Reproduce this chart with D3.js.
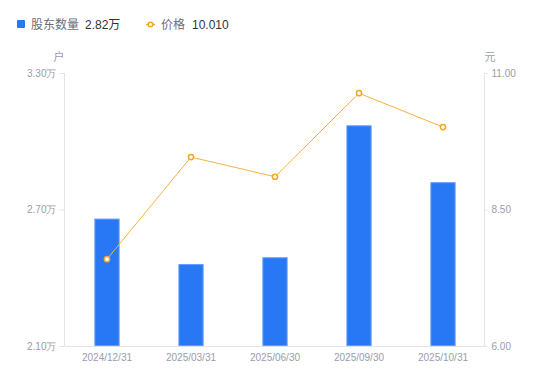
<!DOCTYPE html>
<html>
<head>
<meta charset="utf-8">
<script src="https://cdn.jsdelivr.net/npm/d3@7"></script>
<style>
  body { margin: 0; background: #fff; }
  svg { display: block; font-family: "Liberation Sans", Arial, "Noto Sans CJK SC", sans-serif; }
  .axis path, .axis line { stroke: #e3e3e8; }
  .axis text { fill: #9a9cab; font-size: 10px; }
</style>
</head>
<body>
<svg id="chart"></svg>
<script>
const dates = ["2024/12/31", "2025/03/31", "2025/06/30", "2025/09/30", "2025/10/31"];
const holders = [2.66, 2.46, 2.49, 3.07, 2.82];   // 万户
const prices = [7.59, 9.46, 9.10, 10.63, 10.01];  // 元
const leftTicks = [2.10, 2.70, 3.30];
const rightTicks = [6.00, 8.50, 11.00];

const width = 550, height = 381;
const margin = { top: 73, right: 65, bottom: 35, left: 65 };

const svg = d3.select("#chart")
  .attr("width", width)
  .attr("height", height);

const x = d3.scaleBand()
  .domain(dates)
  .range([margin.left, width - margin.right])
  .paddingInner(0.7)
  .paddingOuter(0.35);

const yL = d3.scaleLinear()
  .domain([2.1, 3.3])
  .range([height - margin.bottom, margin.top]);

const yR = d3.scaleLinear()
  .domain([6, 11])
  .range([height - margin.bottom, margin.top]);

// axes
svg.append("g")
  .attr("class", "axis")
  .attr("transform", `translate(${margin.left - 0.5},0)`)
  .call(d3.axisLeft(yL).tickValues(leftTicks).tickSize(5).tickPadding(3)
    .tickFormat(d => d.toFixed(2) + "万"))
  .call(g => g.select(".domain").attr("d", `M0,${margin.top}V${height - margin.bottom}`));

svg.append("g")
  .attr("class", "axis")
  .attr("transform", `translate(${width - margin.right - 0.5},0)`)
  .call(d3.axisRight(yR).tickValues(rightTicks).tickSize(3).tickPadding(4)
    .tickFormat(d => d.toFixed(2)))
  .call(g => g.select(".domain").attr("d", `M0,${margin.top}V${height - margin.bottom}`));

svg.append("g")
  .attr("class", "axis")
  .attr("transform", `translate(0,${height - margin.bottom + 0.5})`)
  .call(d3.axisBottom(x).tickSize(0).tickPadding(7))
  .call(g => g.select(".domain").attr("d", `M${margin.left},0H${width - margin.right}`));

// unit labels
svg.append("text")
  .attr("x", 59).attr("y", 61)
  .attr("text-anchor", "middle")
  .attr("fill", "#9a9cab").attr("font-size", 11)
  .text("户");

svg.append("text")
  .attr("x", 490).attr("y", 61)
  .attr("text-anchor", "middle")
  .attr("fill", "#9a9cab").attr("font-size", 11)
  .text("元");

// bars
svg.append("g")
  .selectAll("rect")
  .data(holders)
  .join("rect")
  .attr("x", (d, i) => x(dates[i]) + 0.5)
  .attr("y", d => yL(d) + 0.5)
  .attr("width", x.bandwidth() - 1)
  .attr("height", d => yL(2.1) - yL(d) - 1)
  .attr("fill", "#2878f6")
  .attr("stroke", "#5c9bfa")
  .attr("stroke-width", 1);

// price line
const line = d3.line()
  .x((d, i) => x(dates[i]) + x.bandwidth() / 2)
  .y(d => yR(d));

svg.append("path")
  .datum(prices)
  .attr("d", line)
  .attr("fill", "none")
  .attr("stroke", "#f7b23f")
  .attr("stroke-width", 1);

svg.append("g")
  .selectAll("circle")
  .data(prices)
  .join("circle")
  .attr("cx", (d, i) => x(dates[i]) + x.bandwidth() / 2)
  .attr("cy", d => yR(d))
  .attr("r", 2.6)
  .attr("fill", "#fff")
  .attr("stroke", "#f5a623")
  .attr("stroke-width", 1.5);

// legend
const legend = svg.append("g").attr("font-size", 12);

legend.append("rect")
  .attr("x", 17).attr("y", 20).attr("width", 8).attr("height", 8).attr("rx", 1)
  .attr("fill", "#2878f6");
legend.append("text").attr("x", 31).attr("y", 29).attr("fill", "#6b6d7a").text("股东数量");
legend.append("text").attr("x", 85).attr("y", 29).attr("fill", "#333").text(d3.format(".2f")(holders[4]) + "万");

legend.append("line")
  .attr("x1", 146).attr("x2", 155).attr("y1", 24.5).attr("y2", 24.5)
  .attr("stroke", "#f5a623").attr("stroke-width", 1.5);
legend.append("circle")
  .attr("cx", 150.5).attr("cy", 24.5).attr("r", 2.3)
  .attr("fill", "#fff").attr("stroke", "#f5a623").attr("stroke-width", 1.5);
legend.append("text").attr("x", 161).attr("y", 29).attr("fill", "#6b6d7a").text("价格");
legend.append("text").attr("x", 192).attr("y", 29).attr("fill", "#333").text(d3.format(".3f")(prices[4]));
</script>
</body>
</html>
